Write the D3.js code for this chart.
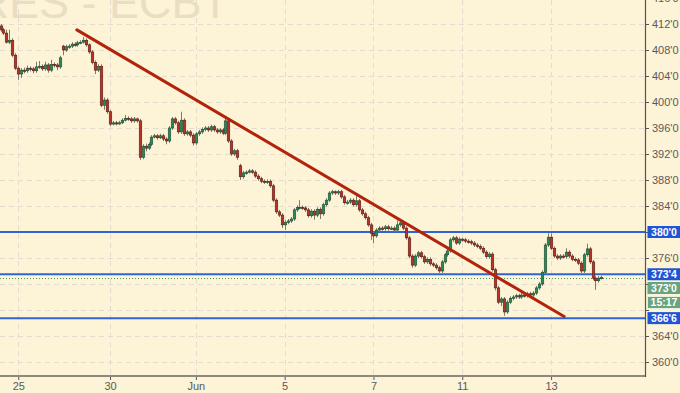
<!DOCTYPE html>
<html><head><meta charset="utf-8">
<script src="https://cdn.jsdelivr.net/npm/d3@7"></script>
<style>body{margin:0;background:#fdf3d6;} svg{display:block}</style>
</head><body><svg id="c" width="680" height="393"></svg>
<script>
// ---- DATA (hourly candles, ZC corn futures, cents/bu) ----
const opens = [
411.7,411.1,410.6,409.2,409.5,407.2,405.2,404.3,404.9,404.8,
405.2,405.1,404.8,405.4,405.5,405.1,405.7,404.9,405.8,405.7,
405.4,408.6,408.0,408.5,408.6,408.9,408.8,409.1,409.2,409.5,
408.8,407.7,406.1,404.9,405.5,399.5,400.3,398.5,396.6,396.8,
396.7,396.8,397.2,397.5,397.4,397.1,397.4,397.1,391.5,393.2,
392.9,393.5,394.6,394.8,394.5,394.8,394.3,394.0,396.0,397.4,
396.8,395.4,397.2,395.1,395.4,394.9,393.7,395.1,395.4,395.8,
396.0,395.7,396.2,395.7,395.4,395.7,395.2,397.1,394.0,392.0,
392.5,390.2,388.5,389.1,389.2,389.4,389.2,388.6,388.2,387.8,
387.7,387.8,387.1,384.9,383.1,382.6,381.1,381.5,381.7,382.0,
383.4,383.8,383.8,383.7,383.4,382.5,383.2,382.6,383.5,382.8,
384.2,384.9,386.0,386.2,386.0,386.2,385.4,384.5,384.6,384.9,
384.2,384.8,383.4,382.8,382.2,381.1,379.8,379.4,380.3,380.6,
380.5,380.8,380.5,380.6,380.3,381.1,381.4,380.6,379.1,376.3,
374.9,376.3,376.8,376.2,375.4,375.8,375.1,374.9,374.5,374.0,
375.4,376.5,377.1,378.8,379.1,378.3,378.9,378.8,378.6,378.5,
378.3,378.0,377.8,377.5,376.9,376.2,376.6,374.2,371.4,369.2,
369.7,367.7,369.2,369.8,370.0,370.2,370.0,370.3,370.2,370.5,
370.3,370.6,371.4,372.0,373.8,378.0,379.2,377.5,376.3,376.0,
376.3,376.2,376.9,376.3,375.8,375.7,375.2,374.0,376.5,377.4,
375.4,372.9,372.5,372.9];
const closes = [
411.1,410.6,409.2,409.5,407.2,405.2,404.3,404.9,404.8,405.2,
405.1,404.8,405.4,405.5,405.1,405.7,404.9,405.8,405.7,405.4,
406.8,408.0,408.5,408.6,408.9,408.8,409.1,409.2,409.5,408.8,
407.7,406.1,404.9,405.5,399.5,400.3,398.5,396.6,396.8,396.7,
396.8,397.2,397.5,397.4,397.1,397.4,397.1,391.5,393.2,392.9,
393.5,394.6,394.8,394.5,394.8,394.3,394.0,396.0,397.4,396.8,
395.4,397.2,395.1,395.4,394.9,393.7,395.1,395.4,395.8,396.0,
395.7,396.2,395.7,395.4,395.7,395.2,397.1,394.0,392.0,392.5,
391.5,388.5,389.1,389.2,389.4,389.2,388.6,388.2,387.8,387.7,
387.8,387.1,384.9,383.1,382.6,381.1,381.5,381.7,382.0,383.4,
383.8,383.8,383.7,383.4,382.5,383.2,382.6,383.5,382.8,384.2,
384.9,386.0,386.2,386.0,386.2,385.4,384.5,384.6,384.9,384.2,
384.8,383.4,382.8,382.2,381.1,379.8,379.4,380.3,380.6,380.5,
380.8,380.5,380.6,380.3,381.1,381.4,380.6,379.1,376.3,374.9,
376.3,376.8,376.2,375.4,375.8,375.1,374.9,374.5,374.0,375.4,
376.5,377.1,378.8,379.1,378.3,378.9,378.8,378.6,378.5,378.3,
378.0,377.8,377.5,376.9,376.2,376.6,374.2,371.4,369.2,369.7,
367.7,369.2,369.8,370.0,370.2,370.0,370.3,370.2,370.5,370.3,
370.6,371.4,372.0,373.8,378.0,379.2,377.5,376.3,376.0,376.3,
376.2,376.9,376.3,375.8,375.7,375.2,374.0,376.5,377.4,375.4,
372.9,372.5,372.9,373.0];
const highs = [
412.0,411.4,411.1,411.1,409.8,407.5,405.5,405.2,405.3,405.6,
405.5,405.4,406.2,406.3,405.8,406.2,406.0,406.5,406.1,406.0,
407.1,408.8,408.8,408.9,409.2,409.2,409.4,409.5,410.0,409.8,
409.0,408.0,406.4,405.8,405.8,400.7,400.6,398.8,397.1,397.1,
397.1,397.5,398.0,397.8,397.7,397.7,397.6,397.4,393.5,393.6,
393.8,394.9,395.1,395.1,395.1,395.1,394.6,396.3,397.7,397.7,
397.1,398.5,397.5,395.7,395.7,395.2,395.4,395.7,396.1,396.3,
396.3,396.5,396.5,396.0,396.0,396.0,397.5,397.4,394.3,392.8,
392.8,390.5,389.4,389.5,389.7,389.7,389.5,388.9,388.5,388.1,
388.1,388.1,387.4,385.2,383.4,382.9,381.8,382.0,382.3,383.7,
384.1,384.9,384.1,384.0,383.7,383.5,383.5,383.8,383.8,384.5,
385.2,386.3,386.5,386.4,386.5,386.5,385.7,384.9,385.2,385.2,
385.7,385.1,383.7,383.1,382.5,381.4,380.1,380.6,380.9,380.9,
381.1,381.1,380.9,380.9,381.8,381.7,381.7,380.9,379.4,376.6,
376.6,377.1,377.1,376.5,376.1,376.1,375.4,375.2,374.8,375.7,
376.8,377.4,379.1,379.4,379.4,379.2,379.1,379.1,378.9,378.8,
378.6,378.3,378.1,377.8,377.2,376.9,376.9,374.5,371.7,370.0,
370.0,369.5,370.1,370.3,370.5,370.5,370.6,370.6,370.8,370.8,
370.9,371.7,372.3,374.1,378.3,379.8,379.8,377.8,376.6,376.6,
376.6,377.5,377.2,376.6,376.1,376.0,375.5,376.8,378.2,377.7,
375.7,373.2,373.2,373.3];
const lows = [
410.8,410.3,409.0,408.9,406.9,404.9,403.4,403.7,404.4,404.5,
404.7,404.4,404.5,405.1,404.8,404.8,404.5,404.6,405.3,404.9,
405.1,407.2,407.7,408.2,408.3,408.5,408.5,408.9,409.0,408.5,
407.4,405.8,404.3,404.6,399.2,398.8,398.2,396.3,396.4,396.4,
396.5,396.6,397.0,397.1,396.8,396.8,396.8,391.1,391.2,392.4,
392.6,393.2,394.4,394.2,394.3,394.0,393.5,393.7,395.7,396.5,
395.1,395.1,394.8,394.8,394.6,393.3,393.4,394.8,395.1,395.5,
395.4,395.4,395.4,395.1,395.1,394.9,394.9,393.7,391.7,391.7,
391.1,388.0,388.2,388.8,389.0,388.9,388.3,387.9,387.5,387.4,
387.4,386.8,384.6,382.8,382.3,380.6,380.3,381.2,381.4,381.7,
383.1,383.5,383.4,383.1,382.2,382.2,381.9,382.3,382.0,382.5,
383.9,384.6,385.7,385.7,385.7,385.1,384.2,384.2,384.3,383.9,
383.9,383.1,382.5,381.9,380.8,378.8,378.3,379.1,380.0,380.2,
380.2,380.2,380.3,380.0,380.0,380.8,380.3,378.8,376.0,374.5,
374.6,376.0,375.9,375.1,375.1,374.8,374.6,374.2,373.7,373.7,
375.1,376.2,376.8,378.5,378.0,378.0,378.5,378.3,378.2,378.0,
377.7,377.5,377.2,376.6,375.9,375.9,373.9,371.0,368.9,368.6,
367.1,367.4,368.9,369.5,369.7,369.7,369.7,369.9,369.9,370.0,
370.0,370.3,371.1,371.7,373.5,377.7,377.2,376.0,375.7,375.7,
375.9,375.9,376.0,375.5,375.4,374.9,373.7,373.7,376.2,375.1,
372.6,371.1,372.2,372.7];

const dateTickIdx = [6, 37, 66, 96, 126, 156, 186];
const dateTickLabels = ["25", "30", "Jun", "5", "7", "11", "13"];
const priceTicks = d3.range(360, 417, 4);
const levelPrices = [380.0, 373.5, 366.75];
const lastPrice = 373.0;
const timerText = "15:17";
const trendPts = [{i: 25.8, p: 411.1}, {i: 190.4, p: 367.0}];
const watermark = "CORN FUTURES - ECBT";

// ---- CHART ----
const W = 680, H = 393, plotR = 645, plotB = 376;
const svg = d3.select("#c");
const FONT = "'Liberation Sans', Arial, sans-serif";
svg.append("rect").attr("width", W).attr("height", H).attr("fill", "#fdf3d6");

const x = d3.scaleLinear().domain([0, 218]).range([0.5, 645.8]);
const y = d3.scaleLinear().domain([360, 412]).range([362, 24]);
const fmt = v => { const w = Math.floor(v + 1e-9); return w + "'" + Math.round((v - w) * 8); };

svg.append("defs").append("clipPath").attr("id", "plot")
  .append("rect").attr("x", 0).attr("y", 0).attr("width", plotR).attr("height", plotB);

// watermark
svg.append("text").attr("x", 229).attr("y", 18).attr("text-anchor", "end")
  .attr("font-family", FONT).attr("font-size", 45).attr("fill", "#e9dec3").text(watermark);

// grid
const grid = svg.append("g").attr("clip-path", "url(#plot)")
  .attr("stroke", "#e2ddce").attr("stroke-dasharray", "5,4").attr("stroke-width", 1);
grid.selectAll(".h").data(priceTicks).join("line")
  .attr("x1", 0).attr("x2", plotR).attr("y1", d => Math.round(y(d)) + 0.5).attr("y2", d => Math.round(y(d)) + 0.5);
grid.selectAll(".v").data(dateTickIdx).join("line")
  .attr("y1", 0).attr("y2", plotB).attr("x1", d => Math.round(x(d)) + 0.5).attr("x2", d => Math.round(x(d)) + 0.5);

const plot = svg.append("g").attr("clip-path", "url(#plot)");

// level lines
plot.selectAll(".lvl").data(levelPrices).join("line")
  .attr("x1", 0).attr("x2", plotR).attr("y1", d => y(d)).attr("y2", d => y(d))
  .attr("stroke", "#3063d6").attr("stroke-width", 2);
// last price dotted
plot.append("line").attr("x1", 0).attr("x2", plotR)
  .attr("y1", Math.round(y(lastPrice)) + 0.5).attr("y2", Math.round(y(lastPrice)) + 0.5)
  .attr("stroke", "#3f9466").attr("stroke-dasharray", "1,2").attr("stroke-width", 1);

// candles
const N = closes.length;
const idx = d3.range(N);
const cg = plot.append("g");
cg.selectAll(".wick").data(idx).join("line")
  .attr("x1", i => Math.round(x(i)) + 0.5).attr("x2", i => Math.round(x(i)) + 0.5)
  .attr("y1", i => y(highs[i])).attr("y2", i => y(lows[i]))
  .attr("stroke", "#7d7a70").attr("stroke-width", 1);
cg.selectAll(".body").data(idx).join("rect")
  .attr("x", i => Math.round(x(i)) - 0.75).attr("width", 2.5)
  .attr("y", i => y(Math.max(opens[i], closes[i])))
  .attr("height", i => Math.max(1.2, Math.abs(y(opens[i]) - y(closes[i]))))
  .attr("fill", i => closes[i] >= opens[i] ? "#2f8758" : "#b3352a")
  .attr("stroke", i => closes[i] >= opens[i] ? "#1d4f33" : "#5e1a12")
  .attr("stroke-width", 0.6);

// trend line
plot.append("line")
  .attr("x1", x(trendPts[0].i)).attr("y1", y(trendPts[0].p))
  .attr("x2", x(trendPts[1].i)).attr("y2", y(trendPts[1].p))
  .attr("stroke", "#b2230b").attr("stroke-width", 3).attr("stroke-linecap", "round");

// right-side tag positions (label boxes cover tick labels underneath)
const tags = levelPrices.map(p => ({cy: y(p), txt: fmt(p), fill: "#1d55d6"}));
tags.push({cy: y(lastPrice) + 10.5, txt: fmt(lastPrice), fill: "#67a47f"});
tags.push({cy: y(lastPrice) + 25, txt: timerText, fill: "#67a47f", stroke: "#e8f0dc"});
const covered = v => tags.some(t => Math.abs(t.cy - y(v)) < 9);

// axes
const yAxis = svg.append("g").attr("transform", `translate(${plotR},0)`)
  .call(d3.axisRight(y).tickValues(priceTicks).tickFormat(fmt).tickSize(4).tickPadding(3));
yAxis.select(".domain").remove();
yAxis.selectAll("text").attr("font-family", FONT).attr("font-size", 11).attr("fill", "#5a5a5a")
  .filter(d => covered(d)).remove();
yAxis.selectAll("line").attr("stroke", "#555");

const xAxis = svg.append("g").attr("transform", `translate(0,${plotB})`)
  .call(d3.axisBottom(x).tickValues(dateTickIdx).tickFormat((d, k) => dateTickLabels[k]).tickSize(4).tickPadding(2));
xAxis.select(".domain").remove();
xAxis.selectAll("text").attr("font-family", FONT).attr("font-size", 11).attr("fill", "#5a5a5a");
xAxis.selectAll("line").attr("stroke", "#555");

svg.append("line").attr("x1", 0).attr("x2", plotR + 0.5).attr("y1", plotB).attr("y2", plotB)
  .attr("stroke", "#8c8a80").attr("stroke-width", 2);
svg.append("line").attr("x1", plotR + 0.5).attr("x2", plotR + 0.5).attr("y1", 0).attr("y2", plotB + 1)
  .attr("stroke", "#555").attr("stroke-width", 1.2);

// right-side labels
tags.forEach(t => {
  const g = svg.append("g");
  g.append("rect").attr("x", 647.5).attr("y", t.cy - 6).attr("width", 33).attr("height", 12)
    .attr("fill", t.fill).attr("stroke", t.stroke || "none");
  g.append("text").attr("x", 664).attr("y", t.cy + 3.8).attr("text-anchor", "middle")
    .attr("font-family", FONT).attr("font-size", 10.5).attr("font-weight", "bold")
    .attr("fill", "#fff").text(t.txt);
});
</script></body></html>
